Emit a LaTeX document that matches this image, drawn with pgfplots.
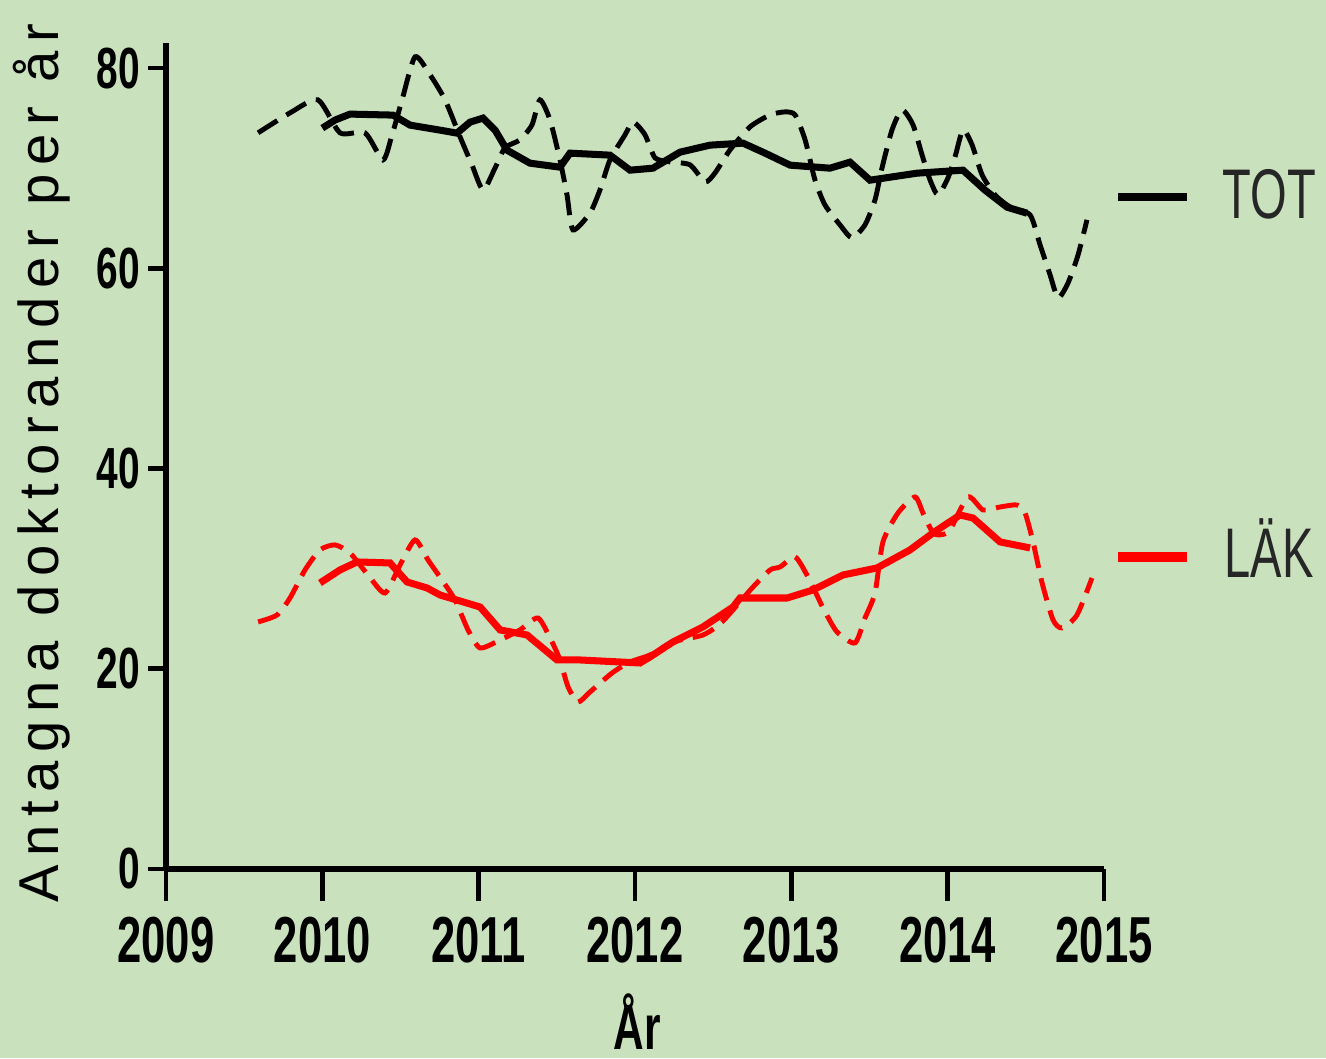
\documentclass[border=0pt]{standalone}
\usepackage{fontspec}
\setmainfont{Liberation Sans}
\newfontfamily\narrowfont[FakeStretch=0.67]{Liberation Sans}
\newfontfamily\spacedfont[LetterSpace=15.5]{Liberation Sans}
\usepackage{pgfplots}
\usepackage{pgfplotstable}
\pgfplotsset{compat=1.18}
\definecolor{bg}{RGB}{201,225,189}

\pgfplotstableread{
x y
2009.589 73.53
2009.793 75.52
2009.972 76.82
2010.113 73.53
2010.273 73.53
2010.388 70.83
2010.446 73.33
2010.510 76.82
2010.593 81.12
2010.689 79.32
2010.785 76.82
2010.881 73.13
2010.957 70.33
2011.028 67.83
2011.105 70.03
2011.168 72.03
2011.264 72.83
2011.341 74.33
2011.392 76.82
2011.456 74.83
2011.520 70.83
2011.565 67.33
2011.603 63.84
2011.712 65.53
2011.776 67.83
2011.840 70.83
2011.936 73.33
2011.987 74.63
2012.064 73.33
2012.128 71.03
2012.224 70.63
2012.352 70.33
2012.448 68.63
2012.512 69.53
2012.608 71.83
2012.736 74.13
2012.864 75.32
2012.960 75.62
2013.024 75.32
2013.088 72.83
2013.151 68.83
2013.215 66.33
2013.311 64.34
2013.388 63.04
2013.471 64.34
2013.535 66.83
2013.580 70.03
2013.644 73.83
2013.708 75.82
2013.778 74.33
2013.836 71.33
2013.887 68.83
2013.938 67.33
2014.002 69.03
2014.047 71.13
2014.098 73.83
2014.156 72.33
2014.220 69.33
2014.303 67.33
2014.399 66.13
2014.527 65.33
2014.591 62.34
2014.655 59.34
2014.706 57.04
2014.770 58.54
2014.834 61.34
2014.891 64.84
}\totraw

\pgfplotstableread{
x y
2010.000 74.0
2010.081 74.8
2010.177 75.4
2010.452 75.3
2010.561 74.3
2010.753 73.8
2010.861 73.5
2010.945 74.6
2011.028 75.0
2011.105 73.8
2011.181 71.8
2011.328 70.5
2011.520 70.1
2011.584 71.5
2011.840 71.3
2011.968 69.8
2012.115 70.0
2012.288 71.6
2012.480 72.3
2012.691 72.5
2012.832 71.5
2012.992 70.3
2013.247 70.0
2013.375 70.6
2013.503 68.8
2013.804 69.5
2014.098 69.8
2014.239 67.8
2014.380 66.1
2014.508 65.5
}\totsmooth

\pgfplotstableread{
x y
2009.589 24.68
2009.710 25.37
2009.793 27.07
2009.889 29.87
2009.985 31.87
2010.081 32.37
2010.177 31.57
2010.292 29.37
2010.401 27.57
2010.497 30.37
2010.593 32.87
2010.676 30.87
2010.765 28.87
2010.849 26.87
2010.932 23.88
2011.009 22.08
2011.137 22.88
2011.264 23.88
2011.380 25.07
2011.469 22.68
2011.520 20.88
2011.572 18.18
2011.635 16.68
2011.712 17.68
2011.853 19.58
2011.968 20.68
2012.096 21.38
2012.243 22.68
2012.435 23.38
2012.557 24.68
2012.749 28.07
2012.864 29.87
2012.928 30.17
2013.024 31.17
2013.100 29.37
2013.139 28.17
2013.203 26.07
2013.292 23.68
2013.407 22.58
2013.471 25.07
2013.535 27.57
2013.586 32.67
2013.682 35.56
2013.791 37.16
2013.842 35.56
2013.906 33.57
2013.960 33.40
2014.015 33.87
2014.130 37.16
2014.226 35.86
2014.335 36.16
2014.444 36.36
2014.495 35.56
2014.546 32.67
2014.604 28.57
2014.674 24.88
2014.731 24.08
2014.827 25.37
2014.923 29.07
}\lakraw

\pgfplotstableread{
x y
2009.985 28.57
2010.113 29.87
2010.222 30.67
2010.433 30.57
2010.542 28.67
2010.670 28.07
2010.753 27.37
2011.009 26.17
2011.137 23.88
2011.309 23.38
2011.501 20.88
2011.648 20.88
2012.032 20.58
2012.096 21.18
2012.243 22.68
2012.435 24.18
2012.627 26.17
2012.672 27.07
2012.973 27.07
2013.139 27.87
2013.331 29.37
2013.548 30.07
2013.759 31.87
2013.906 33.57
2014.079 35.36
2014.162 35.06
2014.335 32.67
2014.527 32.07
}\laksmooth

\begin{document}
\begin{tikzpicture}
\useasboundingbox (0,0) rectangle (132.6mm,105.8mm);
\fill[bg] (0,0) rectangle (132.6mm,105.8mm);
\begin{axis}[
  at={(16.6mm,18.9mm)}, anchor=south west,
  scale only axis, width=93.8mm, height=82.6mm,
  xmin=2009, xmax=2015, ymin=0, ymax=82.5,
  axis lines=left,
  axis line style={line width=1.9pt, -},
  xtick={2009,2010,2011,2012,2013,2014,2015},
  ytick={0,20,40,60,80},
  tick align=outside,
  major tick length=1.8mm,
  xtick style={draw=none},
  ytick style={line width=1.3pt, black},
  /pgf/number format/1000 sep={},
  /pgf/number format/assume math mode=true,
  xticklabel style={font=\narrowfont\bfseries\fontsize{18.5}{20}\selectfont, yshift=-1.8mm},
  yticklabel style={font=\narrowfont\bfseries\fontsize{16.5}{18}\selectfont, xshift=0.4mm},
  clip=false,
]
\pgfplotsinvokeforeach{2009,2010,2011,2012,2013,2014,2015}{
  \draw[line width=1.3pt, black] (axis cs:#1,0) -- ([yshift=-3.2mm]axis cs:#1,0);
}
\addplot[black, line width=1.4pt, dash pattern=on 6.5pt off 3pt, smooth, tension=0.4] table[x=x,y=y] {\totraw};
\addplot[black, line width=2pt] table[x=x,y=y] {\totsmooth};
\addplot[red, line width=1.4pt, dash pattern=on 6.5pt off 3pt, smooth, tension=0.4] table[x=x,y=y] {\lakraw};
\addplot[red, line width=2pt] table[x=x,y=y] {\laksmooth};
\end{axis}
\node[rotate=90, font=\spacedfont\fontsize{16}{18}\selectfont] at (4.2mm,59.5mm) {Antagna doktorander per år};
\node[font=\narrowfont\bfseries\fontsize{18}{20}\selectfont] at (63.7mm,3.6mm) {År};
\draw[black, line width=2.4pt] (111.8mm,86.1mm) -- (118.7mm,86.1mm);
\draw[red, line width=2.6pt] (111.8mm,50.1mm) -- (118.7mm,50.1mm);
\node[anchor=base west, inner sep=0pt, text=black!85, font=\narrowfont\fontsize{20}{22}\selectfont] at (122.2mm,84.0mm) {TOT};
\node[anchor=base west, inner sep=0pt, text=black!85, font=\narrowfont\fontsize{20}{22}\selectfont] at (122.4mm,48.1mm) {LÄK};
\end{tikzpicture}
\end{document}
